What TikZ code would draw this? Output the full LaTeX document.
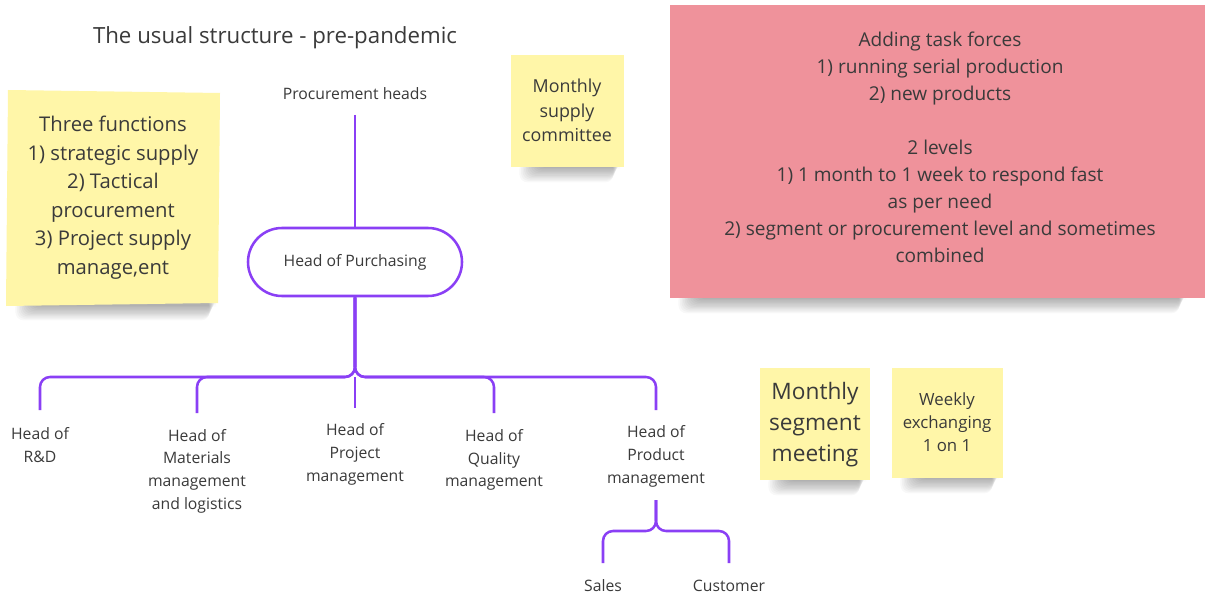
\documentclass[tikz,border=0pt]{standalone}
\usepackage{fontspec}
\setmainfont{Open Sans}
\definecolor{pur}{HTML}{8A3FF5}
\definecolor{stky}{HTML}{FFF6A8}
\definecolor{pnk}{HTML}{EF929B}
\definecolor{txt}{HTML}{3A3A3A}
\newcommand\myshadow[3]{%
  \foreach \i in {0,...,11}{%
    \fill[black,opacity=0.028,rounded corners=6pt] ({#1+26-\i*1.6},{#3-6}) rectangle ({#2-4-\i*0.6},{#3+1+\i*1.3});
  }}
\begin{document}
\begin{tikzpicture}[x=0.75pt,y=-0.75pt,
  conn/.style={draw=pur,line width=1.9pt,rounded corners=7.5pt},
  lbl/.style={text=txt,align=center,font=\fontsize{11.8}{17}\selectfont,inner sep=0pt},
  notetxt/.style={text=txt,align=center,inner sep=0pt},
  stickynote/.style={fill=stky,inner sep=0pt}]
\useasboundingbox (0,0) rectangle (1205,595);
\fill[white] (0,0) rectangle (1205,595);

% shadows
\myshadow{7}{220}{305}
\myshadow{511}{624}{167}
\myshadow{670}{1190}{298}
\myshadow{760}{870}{480}
\myshadow{892}{1003}{478}

% sticky notes
\fill[stky] (8,90) -- (220,93) -- (218,303) -- (6,306) -- cycle;
\node[notetxt,font=\fontsize{15.2}{21.4}\selectfont] (three) at (113,197.5)
  {Three functions\\1) strategic supply\\2) Tactical\\procurement\\3) Project supply\\manage,ent};

\node[stickynote,minimum width=85pt,minimum height=84pt] (msc) at (567.5,111) {};
\node[notetxt,font=\fontsize{13.4}{18.4}\selectfont] (msctxt) at (567,110.5) {Monthly\\supply\\committee};

\node[fill=pnk,inner sep=0pt,minimum width=401pt,minimum height=220pt] (pink) at (937.5,151.5) {};
\node[notetxt,font=\fontsize{14.3}{20.25}\selectfont] (pinktxt) at (940,147)
  {Adding task forces\\1) running serial production\\2) new products\\[20.25pt]2 levels\\1) 1 month to 1 week to respond fast\\as per need\\2) segment or procurement level and sometimes\\combined};

\node[stickynote,minimum width=82.5pt,minimum height=84pt] (seg) at (815,424) {};
\node[notetxt,font=\fontsize{17}{23.3}\selectfont] (segtxt) at (815,424.5) {Monthly\\segment\\meeting};

\node[stickynote,minimum width=83pt,minimum height=82.5pt] (wk) at (947.5,423) {};
\node[notetxt,font=\fontsize{12.6}{17.3}\selectfont] (wktxt) at (947,422.5) {Weekly\\exchanging\\1 on 1};

% title
\node[notetxt,font=\fontsize{16.7}{20}\selectfont] (title) at (275,38) {The usual structure - pre-pandemic};

% org chart
\node[lbl] (ph) at (355,94) {Procurement heads};
\node[lbl,draw=pur,line width=1.9pt,rounded corners=25.5pt,minimum width=160.5pt,minimum height=51pt,fill=white] (hp) at (355,262) {Head of Purchasing};

\node[lbl] (rd) at (40,445) {Head of\\R\&D};
\node[lbl] (mat) at (197,471) {Head of\\Materials\\management\\and logistics};
\node[lbl] (prj) at (355,454.5) {Head of\\Project\\management};
\node[lbl] (qual) at (494,460) {Head of\\Quality\\management};
\node[lbl] (prod) at (656,456.5) {Head of\\Product\\management};
\node[lbl] (sales) at (603,586) {Sales};
\node[lbl] (cust) at (729,586) {Customer};

\coordinate (bus) at (355,377);
\coordinate (c1) at (40,410);
\coordinate (c2) at (197,413);
\coordinate (c3) at (355,408);
\coordinate (c4) at (494,413);
\coordinate (c5) at (656,410);
\coordinate (p0) at (656,500);
\coordinate (bus2) at (656,531);
\coordinate (s1) at (603,563);
\coordinate (s2) at (729,563);
\coordinate (ph0) at (355,115);

\draw[conn] (ph0) -- (hp.north);
\draw[conn] (hp.south) -- (bus) -| (c1);
\draw[conn] (hp.south) -- (bus) -| (c2);
\draw[conn] (bus) -- (c3);
\draw[conn] (hp.south) -- (bus) -| (c4);
\draw[conn] (hp.south) -- (bus) -| (c5);
\draw[conn] (p0) -- (bus2) -| (s1);
\draw[conn] (p0) -- (bus2) -| (s2);
\end{tikzpicture}
\end{document}
